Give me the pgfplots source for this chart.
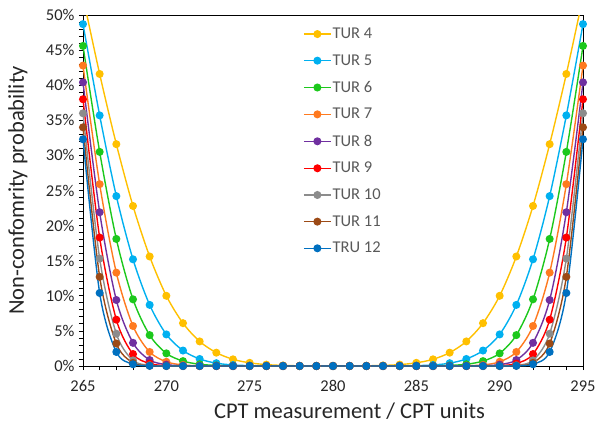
\documentclass[border=0pt]{standalone}
\usepackage{fontspec}
\setmainfont{Carlito}
\usepackage{pgfplots}
\usepackage{pgfplotstable}
\pgfplotsset{compat=1.18}

\definecolor{tfour}{HTML}{FFC000}
\definecolor{tfive}{HTML}{00B0F0}
\definecolor{tsix}{HTML}{1CC81C}
\definecolor{tseven}{HTML}{FF7A1F}
\definecolor{teight}{HTML}{7030A0}
\definecolor{tnine}{HTML}{FF0000}
\definecolor{tten}{HTML}{8C8C8C}
\definecolor{televen}{HTML}{9C4A16}
\definecolor{ttwelve}{HTML}{0070C0}

% probability in % (symmetric about 280)
\pgfplotstableread{
x    t4    t5    t6    t7    t8    t9    t10   t11   t12
265  52.6  48.7  45.6  42.8  40.4  38.0  36.0  34.0  32.3
266  41.6  35.7  30.5  25.9  21.9  18.3  15.3  12.7  10.4
267  31.6  24.2  18.1  13.3  9.4   6.6   4.6   3.2   2.0
268  22.8  15.2  9.5   5.7   3.3   1.7   0.8   0.45  0.25
269  15.6  8.7   4.4   2.0   0.85  0.35  0.1   0.04  0.02
270  10.0  4.5   1.8   0.6   0.2   0.05  0.01  0     0
271  6.1   2.2   0.7   0.15  0.04  0.01  0     0     0
272  3.5   1.0   0.25  0.04  0.01  0     0     0     0
273  1.9   0.4   0.08  0.01  0     0     0     0     0
274  0.95  0.15  0.02  0     0     0     0     0     0
275  0.45  0.05  0.01  0     0     0     0     0     0
276  0.2   0.02  0     0     0     0     0     0     0
277  0.08  0.01  0     0     0     0     0     0     0
278  0.03  0     0     0     0     0     0     0     0
279  0.01  0     0     0     0     0     0     0     0
280  0.01  0     0     0     0     0     0     0     0
281  0.01  0     0     0     0     0     0     0     0
282  0.03  0     0     0     0     0     0     0     0
283  0.08  0.01  0     0     0     0     0     0     0
284  0.2   0.02  0     0     0     0     0     0     0
285  0.45  0.05  0.01  0     0     0     0     0     0
286  0.95  0.15  0.02  0     0     0     0     0     0
287  1.9   0.4   0.08  0.01  0     0     0     0     0
288  3.5   1.0   0.25  0.04  0.01  0     0     0     0
289  6.1   2.2   0.7   0.15  0.04  0.01  0     0     0
290  10.0  4.5   1.8   0.6   0.2   0.05  0.01  0     0
291  15.6  8.7   4.4   2.0   0.85  0.35  0.1   0.04  0.02
292  22.8  15.2  9.5   5.7   3.3   1.7   0.8   0.45  0.25
293  31.6  24.2  18.1  13.3  9.4   6.6   4.6   3.2   2.0
294  41.6  35.7  30.5  25.9  21.9  18.3  15.3  12.7  10.4
295  52.6  48.7  45.6  42.8  40.4  38.0  36.0  34.0  32.3
}\data

\begin{document}
\begin{tikzpicture}
\begin{axis}[
  at={(0,0)}, anchor=south west,
  width=500bp, height=351bp, scale only axis,
  xmin=265, xmax=295, ymin=0, ymax=50,
  xtick={265,270,...,295},
  ytick={0,5,...,50},
  yticklabels={0\%,5\%,10\%,15\%,20\%,25\%,30\%,35\%,40\%,45\%,50\%},
  minor x tick num=4, minor y tick num=4,
  tick align=outside,
  major tick length=4bp, minor tick length=4bp,
  tick style={black, line width=0.8pt},
  axis line style={black, line width=0.8pt},
  xtick pos=bottom, ytick pos=left,
  /pgf/number format/assume math mode=true,
  /pgf/number format/1000 sep={},
  tick label style={font=\fontsize{16.5bp}{19bp}\selectfont, text=black!85},
  xticklabel shift=7bp,
  yticklabel shift=1bp,
  xlabel={CPT measurement / CPT units},
  ylabel={Non-confomrity probability},
  every axis x label/.style={at={(axis description cs:0.533,-0.128)}, anchor=center,
    font=\fontsize{22.5bp}{26bp}\selectfont, text=black!85},
  every axis y label/.style={at={(axis description cs:-0.13,0.5)}, rotate=90, anchor=center,
    font=\fontsize{22.5bp}{26bp}\selectfont, text=black!85},
  legend style={at={(axis description cs:0.434,0.972)}, anchor=north west,
    draw=none, fill=none, font=\fontsize{16.5bp}{19bp}\selectfont, text=black!65,
    row sep=12.5bp, nodes={inner sep=1bp}},
  legend cell align=left,
  legend image code/.code={\draw[mark repeat=2, mark phase=2]
    plot coordinates {(0bp,0bp) (13.5bp,0bp) (27bp,0bp)};},
  every axis plot/.append style={line width=1.4pt, smooth, mark=*, mark size=3.3pt},
]
\addplot[color=tfour, mark=*, mark options={fill=tfour}]     table[x=x, y=t4]  {\data};
\addplot[color=tfive, mark=*, mark options={fill=tfive}]     table[x=x, y=t5]  {\data};
\addplot[color=tsix, mark=*, mark options={fill=tsix}]       table[x=x, y=t6]  {\data};
\addplot[color=tseven, mark=*, mark options={fill=tseven}]   table[x=x, y=t7]  {\data};
\addplot[color=teight, mark=*, mark options={fill=teight}]   table[x=x, y=t8]  {\data};
\addplot[color=tnine, mark=*, mark options={fill=tnine}]     table[x=x, y=t9]  {\data};
\addplot[color=tten, mark=*, mark options={fill=tten}]       table[x=x, y=t10] {\data};
\addplot[color=televen, mark=*, mark options={fill=televen}] table[x=x, y=t11] {\data};
\addplot[color=ttwelve, mark=*, mark options={fill=ttwelve}] table[x=x, y=t12] {\data};
\legend{TUR 4, TUR 5, TUR 6, TUR 7, TUR 8, TUR 9, TUR 10, TUR 11, TRU 12}
\end{axis}
\pgfresetboundingbox
\path (-83bp,-62bp) rectangle (512bp,366bp);
\end{tikzpicture}
\end{document}
